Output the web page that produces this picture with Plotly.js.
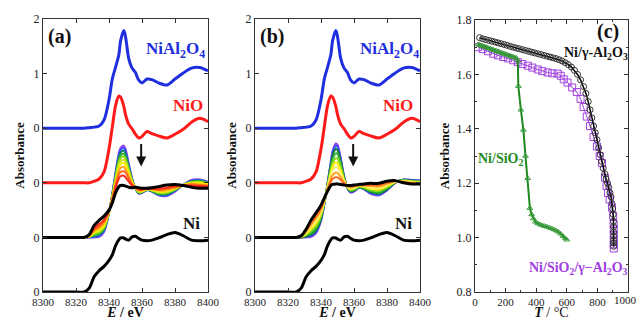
<!DOCTYPE html>
<html><head><meta charset="utf-8">
<script src="https://cdn.plot.ly/plotly-3.0.1.min.js"></script>
<style>html,body{margin:0;padding:0;background:#fff}#plot{width:637px;height:320px}</style>
</head><body><div id="plot"></div>
<script>
// ---------- Data ----------
const E = [8300,8310,8320,8325,8328,8331,8334,8337,8340,8342,8344,8346,8347,8349,8350,8352,8354,8356,8358,8360,8363,8366,8370,8375,8380,8385,8390,8395,8400];

// reference spectra (normalized absorbance)
const refNiAl2O4 = [0,0,0,0,0.01,0.02,0.04,0.15,0.52,0.9,1.12,1.35,1.6,1.79,1.68,1.27,1.1,1.02,0.88,0.83,0.9,0.89,0.83,0.79,0.9,1.01,1.1,1.11,1.05];
const refNiO     = [0,0,0,0,0,0.03,0.07,0.2,0.62,1.02,1.42,1.59,1.57,1.4,1.25,1.07,0.99,0.89,0.82,0.85,0.94,0.9,0.86,0.82,0.89,0.98,1.11,1.18,1.12];
const refNi      = [0,0,0,0,0.07,0.28,0.39,0.47,0.58,0.68,0.85,0.96,0.99,0.99,0.97,0.95,1.01,1.02,0.98,0.95,0.94,0.95,0.99,1.05,1.09,1.03,0.95,0.94,0.95];

// panel (a): in situ spectra during reduction
const a_purple = [0,0,0,0,0,0,0.01,0.1,0.45,0.8,1.2,1.55,1.64,1.68,1.62,1.35,1.08,0.9,0.8,0.81,0.87,0.84,0.77,0.76,0.84,0.96,1.05,1.06,1.02];
const a_blue   = [0,0,0,0,0,0.01,0.03,0.12,0.45,0.79,1.18,1.51,1.6,1.64,1.58,1.32,1.07,0.9,0.81,0.82,0.87,0.84,0.78,0.77,0.85,0.96,1.04,1.05,1.01];
const a_teal   = [0,0,0,0,0.01,0.03,0.05,0.14,0.46,0.78,1.15,1.47,1.55,1.59,1.53,1.29,1.06,0.9,0.81,0.82,0.87,0.85,0.79,0.79,0.86,0.96,1.03,1.04,1.0];
const a_green  = [0,0,0,0,0.01,0.04,0.07,0.16,0.46,0.77,1.12,1.43,1.5,1.53,1.48,1.26,1.05,0.9,0.82,0.83,0.88,0.85,0.8,0.8,0.87,0.96,1.02,1.03,1.0];
const a_lime   = [0,0,0,0,0.01,0.06,0.09,0.18,0.46,0.75,1.09,1.38,1.45,1.48,1.43,1.23,1.03,0.91,0.83,0.84,0.88,0.86,0.82,0.82,0.88,0.96,1.01,1.02,0.99];
const a_ygreen = [0,0,0,0,0.02,0.08,0.12,0.2,0.47,0.74,1.06,1.33,1.39,1.42,1.38,1.2,1.02,0.91,0.84,0.84,0.88,0.87,0.83,0.83,0.89,0.96,1.0,1.0,0.98];
const a_yellow = [0,0,0,0,0.02,0.1,0.14,0.23,0.47,0.73,1.03,1.28,1.34,1.36,1.32,1.16,1.01,0.91,0.85,0.85,0.88,0.87,0.84,0.85,0.9,0.96,0.99,0.99,0.97];
const a_orange = [0,0,0,0,0.03,0.12,0.17,0.26,0.48,0.71,1.0,1.22,1.27,1.29,1.25,1.12,0.99,0.91,0.86,0.86,0.89,0.88,0.86,0.87,0.91,0.95,0.98,0.97,0.96];
const a_ored   = [0,0,0,0,0.03,0.14,0.2,0.29,0.48,0.69,0.96,1.15,1.2,1.21,1.19,1.08,0.97,0.91,0.87,0.87,0.89,0.89,0.87,0.89,0.92,0.95,0.97,0.96,0.94];
const a_red    = [0,0,0,0,0.04,0.17,0.24,0.32,0.49,0.67,0.91,1.08,1.12,1.13,1.1,1.02,0.95,0.92,0.88,0.88,0.89,0.89,0.89,0.91,0.94,0.95,0.95,0.94,0.93];
const a_black  = [0,0,0,0,0.05,0.22,0.31,0.39,0.5,0.63,0.82,0.93,0.95,0.95,0.94,0.92,0.91,0.92,0.91,0.9,0.9,0.91,0.93,0.96,0.97,0.95,0.92,0.9,0.9];

// panel (b)
const b_purple = [0,0,0,0,0,0,0.01,0.08,0.3,0.6,1.0,1.4,1.58,1.72,1.7,1.45,1.12,0.9,0.82,0.84,0.91,0.88,0.8,0.77,0.86,1.0,1.06,1.05,1.04];
const b_blue   = [0,0,0,0,0,0.01,0.03,0.1,0.32,0.61,0.99,1.37,1.54,1.68,1.66,1.42,1.11,0.9,0.83,0.85,0.91,0.89,0.81,0.78,0.87,1.0,1.06,1.05,1.04];
const b_dgreen = [0,0,0,0,0,0.02,0.05,0.13,0.34,0.62,0.98,1.34,1.5,1.62,1.6,1.38,1.1,0.91,0.84,0.86,0.92,0.89,0.83,0.8,0.88,1.01,1.05,1.04,1.03];
const b_green  = [0,0,0,0,0.01,0.04,0.08,0.17,0.37,0.63,0.96,1.29,1.43,1.54,1.53,1.34,1.08,0.91,0.85,0.87,0.92,0.9,0.85,0.82,0.9,1.01,1.05,1.03,1.03];
const b_lime   = [0,0,0,0,0.01,0.05,0.12,0.21,0.4,0.64,0.95,1.24,1.36,1.45,1.44,1.28,1.06,0.92,0.87,0.88,0.93,0.92,0.87,0.85,0.92,1.01,1.04,1.03,1.02];
const b_yellow = [0,0,0,0,0.01,0.07,0.16,0.26,0.44,0.66,0.93,1.18,1.29,1.37,1.35,1.22,1.04,0.92,0.88,0.9,0.94,0.93,0.89,0.88,0.94,1.02,1.03,1.02,1.01];
const b_pale   = [0,0,0,0,0.02,0.09,0.19,0.3,0.47,0.67,0.91,1.14,1.23,1.29,1.28,1.17,1.03,0.93,0.9,0.91,0.95,0.94,0.91,0.9,0.96,1.02,1.03,1.01,1.0];
const b_orange = [0,0,0,0,0.02,0.11,0.23,0.35,0.51,0.69,0.89,1.08,1.14,1.19,1.18,1.1,1.01,0.94,0.91,0.93,0.95,0.95,0.94,0.93,0.98,1.03,1.02,1.0,1.0];
const b_ored   = [0,0,0,0,0.03,0.13,0.27,0.39,0.54,0.7,0.87,1.02,1.07,1.1,1.1,1.05,0.99,0.94,0.93,0.94,0.96,0.96,0.96,0.96,1.0,1.03,1.01,0.99,0.99];
const b_black  = [0,0,0,0,0.03,0.15,0.32,0.45,0.59,0.72,0.85,0.95,0.97,0.98,0.98,0.97,0.96,0.95,0.95,0.96,0.97,0.98,0.99,0.99,1.03,1.04,1.0,0.98,0.98];

// panel (c): absorbance vs temperature
const T_NiAl = [30,50,70,90,110,130,150,170,190,210,230,250,270,290,310,330,350,370,390,410,430,450,470,490,510,530,550,570,590,610,630,650,670,690,710,725,740,752,764,775,786,797,808,818,828,838,848,857,866,874,882,889,895,900,903,905,906,906,906,906,906,906];
const A_NiAl = [1.735,1.731,1.728,1.725,1.722,1.719,1.716,1.713,1.710,1.707,1.703,1.700,1.697,1.694,1.691,1.688,1.685,1.682,1.679,1.676,1.673,1.670,1.667,1.664,1.661,1.658,1.654,1.649,1.643,1.636,1.627,1.615,1.600,1.580,1.555,1.530,1.500,1.470,1.440,1.410,1.385,1.360,1.330,1.305,1.280,1.255,1.235,1.215,1.200,1.185,1.165,1.150,1.125,1.105,1.085,1.060,1.040,1.020,1.005,0.990,0.980,0.968];
const T_NiSiAl = [20,50,85,120,150,185,215,250,280,310,345,375,410,440,475,505,540,560,580,605,635,665,690,710,730,752,775,797,815,830,850,860,869,880,895,903,906,907,907,907,907,907];
const A_NiSiAl = [1.700,1.693,1.685,1.676,1.670,1.664,1.659,1.652,1.645,1.638,1.632,1.625,1.618,1.612,1.607,1.604,1.603,1.595,1.582,1.570,1.552,1.535,1.510,1.480,1.445,1.410,1.370,1.335,1.300,1.274,1.220,1.190,1.164,1.140,1.110,1.080,1.050,1.030,1.010,0.990,0.975,0.960];
const T_NiSi = [20,30,40,50,60,70,80,90,100,110,120,130,140,150,160,170,180,190,200,210,220,230,240,250,260,270,280,283,300,316,330,344,359,370,381,395,410,425,440,455,470,485,500,515,530,545,560,575,590,600];
const A_NiSi = [1.710,1.708,1.706,1.704,1.702,1.700,1.698,1.696,1.694,1.692,1.690,1.688,1.686,1.684,1.682,1.680,1.678,1.676,1.674,1.672,1.670,1.668,1.666,1.664,1.662,1.660,1.650,1.557,1.470,1.396,1.300,1.218,1.108,1.085,1.070,1.058,1.052,1.048,1.045,1.042,1.040,1.037,1.034,1.030,1.026,1.021,1.014,1.005,0.997,0.992];

const yTickVals = [0,1,2,3,4,5];
const yTickText = ['0','0','0','0','1','2'];

// ---------- Build ----------
const W = 637, H = 320;
const serif = '"Liberation Serif", "Times New Roman", Times, serif';
const traces = [];
function spec(y, off, color, width, xa, ya) {
  traces.push({x: E, y: y.map(v => v + off), xaxis: xa, yaxis: ya, type: 'scatter', mode: 'lines',
    line: {color: color, width: width, shape: 'spline', smoothing: 0.8}, hoverinfo: 'skip', showlegend: false});
}
const C = {purple:'#9b3df0', blue:'#3050ff', teal:'#0f7f6a', dgreen:'#137a3a', green:'#2db82d', lime:'#8fd61f', ygreen:'#cfe61a', yellow:'#ffee00', pale:'#fff07a', orange:'#ffa21a', ored:'#ff6a1a', red:'#ff2a1a', black:'#000000'};

// panel a
spec(refNiAl2O4, 3, '#1f2fe0', 3, 'x', 'y');
spec(refNiO, 2, '#ff1a1a', 3, 'x', 'y');
[[a_purple,C.purple],[a_blue,C.blue],[a_teal,C.teal],[a_green,C.green],[a_lime,C.lime],[a_ygreen,C.ygreen],[a_yellow,C.yellow],[a_orange,C.orange],[a_ored,C.ored],[a_red,C.red]]
  .forEach(p => spec(p[0], 1, p[1], 2, 'x', 'y'));
spec(a_black, 1, '#000', 3, 'x', 'y');
spec(refNi, 0, '#000', 3, 'x', 'y');
// panel b
spec(refNiAl2O4, 3, '#1f2fe0', 3, 'x2', 'y2');
spec(refNiO, 2, '#ff1a1a', 3, 'x2', 'y2');
[[b_purple,C.purple],[b_blue,C.blue],[b_dgreen,C.dgreen],[b_green,C.green],[b_lime,C.lime],[b_yellow,C.yellow],[b_pale,C.pale],[b_orange,C.orange],[b_ored,C.ored]]
  .forEach(p => spec(p[0], 1, p[1], 2, 'x2', 'y2'));
spec(b_black, 1, '#000', 3, 'x2', 'y2');
spec(refNi, 0, '#000', 3, 'x2', 'y2');
// panel c
traces.push({x: T_NiSiAl, y: A_NiSiAl, xaxis: 'x3', yaxis: 'y3', mode: 'lines+markers', showlegend: false,
  line: {color: '#a040e0', width: 1}, marker: {symbol: 'square-open', size: 7, color: '#a040e0', line: {width: 1}}});
traces.push({x: T_NiAl, y: A_NiAl, xaxis: 'x3', yaxis: 'y3', mode: 'lines+markers', showlegend: false,
  line: {color: '#000', width: 1.5}, marker: {symbol: 'circle-open', size: 6, color: '#333', line: {width: 1}}});
traces.push({x: T_NiSi, y: A_NiSi, xaxis: 'x3', yaxis: 'y3', mode: 'lines+markers', showlegend: false,
  line: {color: '#1f8a1f', width: 2}, marker: {symbol: 'triangle-up-open', size: 5, color: '#3a9a3a', line: {width: 1}}});

const axBase = {showline: true, linecolor: '#333', linewidth: 1, mirror: 'ticks', ticks: 'inside', ticklen: 4,
  tickcolor: '#333', showgrid: false, zeroline: false, tickfont: {family: serif, size: 11, color: '#222'}};
const px = v => v / W, py = v => 1 - v / H;
const xE = (dom) => Object.assign({}, axBase, {domain: dom, range: [8300, 8400], dtick: 20, tick0: 8300,
  title: {text: '<b><i>E</i> / eV</b>', font: {family: serif, size: 14, color: '#111'}, standoff: 5}});
const yS = (dom, anchor) => Object.assign({}, axBase, {domain: dom, range: [0, 5], tickmode: 'array', tickvals: yTickVals, ticktext: yTickText,
  tickfont: {family: serif, size: 12, color: '#222'}, anchor: anchor,
  title: {text: '<b>Absorbance</b>', font: {family: serif, size: 13, color: '#111'}, standoff: 6}});

const layout = {
  width: W, height: H, margin: {l: 0, r: 0, t: 0, b: 0}, paper_bgcolor: '#fff', plot_bgcolor: '#fff', showlegend: false,
  xaxis: Object.assign(xE([px(43), px(208)]), {anchor: 'y'}),
  yaxis: yS([1 - 292 / H, 1 - 19 / H], 'x'),
  xaxis2: Object.assign(xE([px(255), px(420)]), {anchor: 'y2'}),
  yaxis2: yS([1 - 292 / H, 1 - 19 / H], 'x2'),
  xaxis3: Object.assign({}, axBase, {domain: [px(475), px(628)], range: [0, 1000], dtick: 200, anchor: 'y3',
    minor: {dtick: 100, ticks: 'inside', ticklen: 2, tickcolor: '#333'},
    title: {text: '<b><i>T</i></b> / °C', font: {family: serif, size: 14, color: '#111'}, standoff: 5}}),
  yaxis3: Object.assign({}, axBase, {domain: [1 - 292 / H, 1 - 20 / H], range: [0.8, 1.8], dtick: 0.2, tickformat: '.1f', anchor: 'x3',
    tickfont: {family: serif, size: 12, color: '#222'},
    minor: {dtick: 0.1, ticks: 'inside', ticklen: 2, tickcolor: '#333'},
    title: {text: '<b>Absorbance</b>', font: {family: serif, size: 13, color: '#111'}, standoff: 4}}),
  annotations: []
};
function lab(text, x, y, size, color, xanchor) {
  layout.annotations.push({text: text, x: px(x), y: py(y), xref: 'paper', yref: 'paper', showarrow: false,
    xanchor: xanchor || 'left', yanchor: 'middle', font: {family: serif, size: size, color: color}});
}
lab('<b>(a)</b>', 46, 37, 20, '#111');
lab('<b>NiAl<sub>2</sub>O<sub>4</sub></b>', 207, 50, 17, '#1f2fe0', 'right');
lab('<b>NiO</b>', 205, 105, 17, '#ff1a1a', 'right');
lab('<b>Ni</b>', 202, 223, 17, '#111', 'right');
lab('<b>(b)</b>', 258, 37, 20, '#111');
lab('<b>NiAl<sub>2</sub>O<sub>4</sub></b>', 421, 50, 17, '#1f2fe0', 'right');
lab('<b>NiO</b>', 415, 105, 17, '#ff1a1a', 'right');
lab('<b>Ni</b>', 414, 223, 17, '#111', 'right');
lab('<b>(c)</b>', 621, 32, 20, '#111', 'right');
lab('<b>Ni/γ-Al<sub>2</sub>O<sub>3</sub></b>', 630, 54, 14, '#111', 'right');
lab('<b>Ni/SiO<sub>2</sub></b>', 476, 159, 14, '#1f8a1f');
lab('<b>Ni/SiO<sub>2</sub>/γ−Al<sub>2</sub>O<sub>3</sub></b>', 630, 268, 14, '#a040e0', 'right');
// last tick label of panel (c), which sits at the page edge in the original
layout.annotations.push({text: '1000', x: px(625), y: py(300), xref: 'paper', yref: 'paper', showarrow: false,
  xanchor: 'center', yanchor: 'middle', font: {family: serif, size: 11, color: '#222'}});
// arrows
[['x','y'],['x2','y2']].forEach(r => layout.annotations.push({x: 8359.5, y: 2.3, ax: 8359.5, ay: 2.74, xref: r[0], yref: r[1],
  axref: r[0], ayref: r[1], text: '', showarrow: true, arrowhead: 2, arrowsize: 1, arrowwidth: 2, arrowcolor: '#111'}));

Plotly.newPlot('plot', traces, layout, {staticPlot: true, displayModeBar: false});
</script></body></html>
